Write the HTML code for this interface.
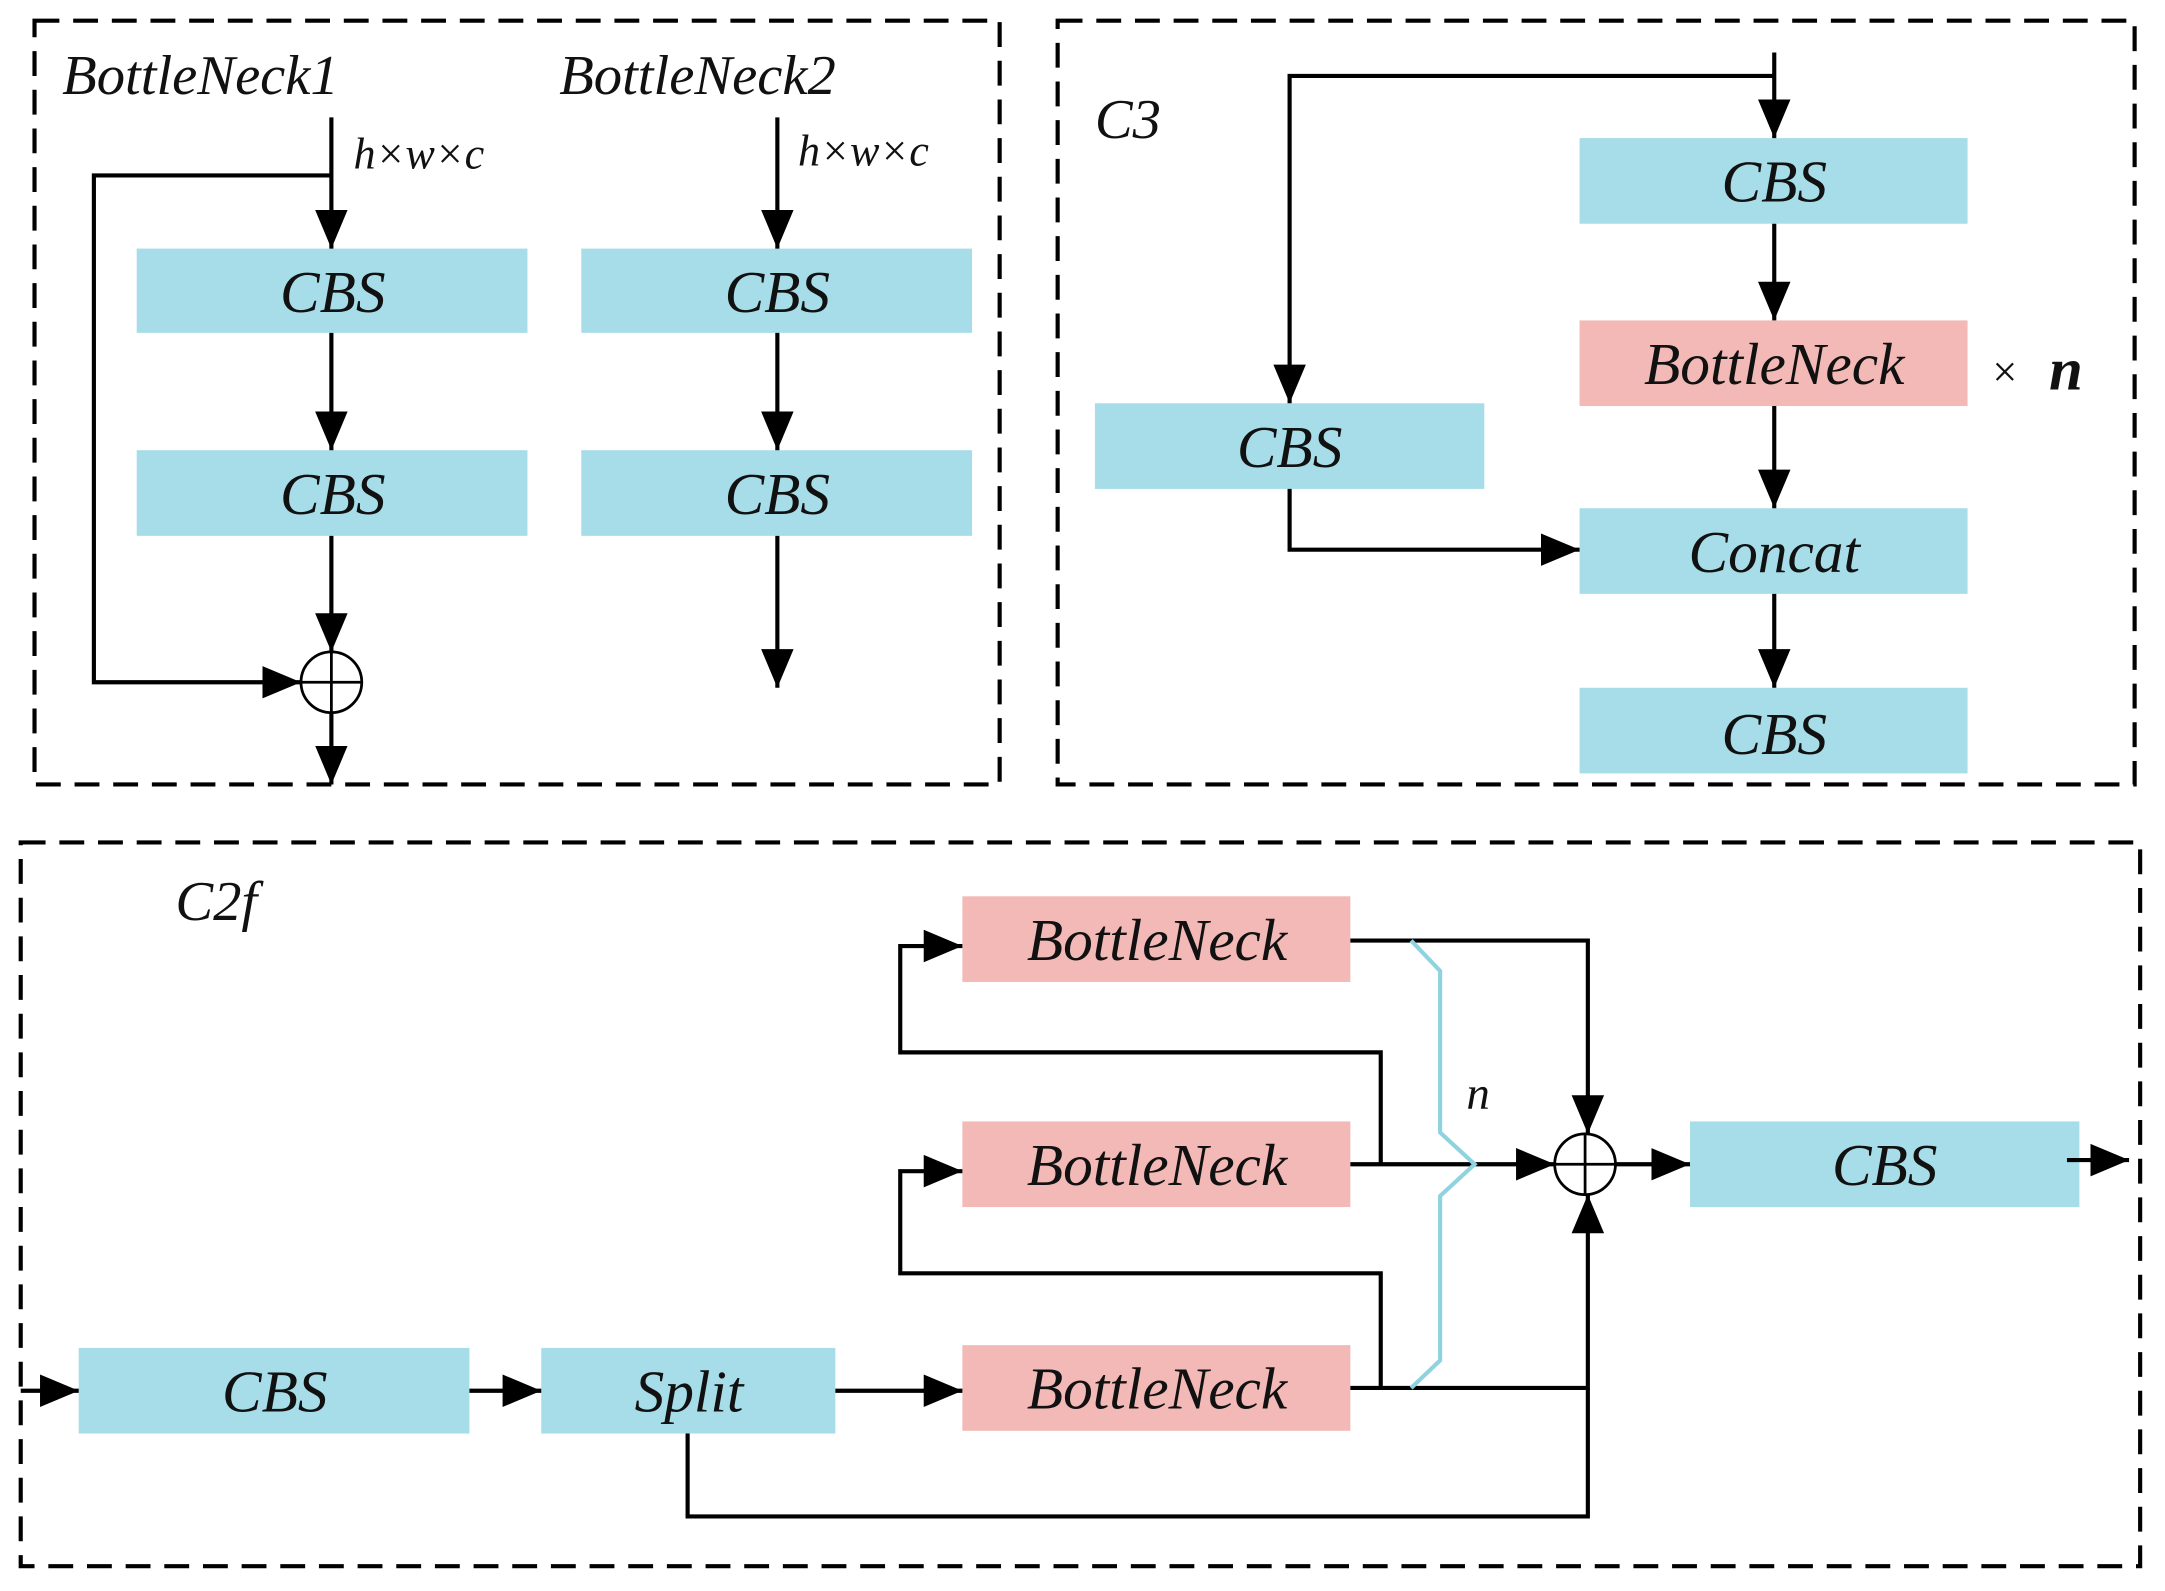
<!DOCTYPE html>
<html><head><meta charset="utf-8"><style>
html,body{margin:0;padding:0;background:#fff;}
svg{display:block;}
text{font-family:"Liberation Serif",serif;font-style:italic;fill:#111;}
</style></head><body>
<svg width="2165" height="1591" viewBox="0 0 1568 1152" preserveAspectRatio="none" xmlns="http://www.w3.org/2000/svg">
<defs>
<marker id="b" viewBox="0 0 10 10" refX="10" refY="5" markerWidth="28" markerHeight="28" orient="auto" markerUnits="userSpaceOnUse">
<path d="M0,0.8 L10,5 L0,9.2 z" fill="#000"/>
</marker>
</defs>
<g fill="none" stroke="#000" stroke-width="3" stroke-dasharray="18,10">
<rect x="25" y="15" width="699" height="553"/>
<rect x="766" y="15" width="780" height="553"/>
<rect x="15" y="610" width="1535" height="524"/>
</g>
<g fill="#a6dde8">
<rect x="99" y="180" width="283" height="61"/>
<rect x="99" y="326" width="283" height="62"/>
<rect x="421" y="180" width="283" height="61"/>
<rect x="421" y="326" width="283" height="62"/>
<rect x="1144" y="100" width="281" height="62"/>
<rect x="1144" y="368" width="281" height="62"/>
<rect x="1144" y="498" width="281" height="62"/>
<rect x="793" y="292" width="282" height="62"/>
<rect x="57" y="976" width="283" height="62"/>
<rect x="392" y="976" width="213" height="62"/>
<rect x="1224" y="812" width="282" height="62"/>
</g>
<g fill="#f2b9b6">
<rect x="1144" y="232" width="281" height="62"/>
<rect x="697" y="649" width="281" height="62"/>
<rect x="697" y="812" width="281" height="62"/>
<rect x="697" y="974" width="281" height="62"/>
</g>
<g fill="none" stroke="#000" stroke-width="3" marker-end="url(#b)">
<path d="M240,85 V180"/>
<path d="M240,241 V326"/>
<path d="M240,388 V472"/>
<path d="M240,127 H68 V494 H218"/>
<path d="M240,516 V568"/>
<path d="M563,85 V180"/>
<path d="M563,241 V326"/>
<path d="M563,388 V498"/>
<path d="M1285,38 V100"/>
<path d="M1285,55 H934 V292"/>
<path d="M1285,162 V232"/>
<path d="M1285,294 V368"/>
<path d="M1285,430 V498"/>
<path d="M934,354 V398 H1144"/>
<path d="M15,1007 H57"/>
<path d="M340,1007 H392"/>
<path d="M605,1007 H697"/>
<path d="M978,681 H1150 V821"/>
<path d="M978,843 H1126"/>
<path d="M1000,843 V762 H652 V685 H697"/>
<path d="M978,1005 H1150 V865"/>
<path d="M1000,1005 V922 H652 V848 H697"/>
<path d="M1170,843 H1224"/>
<path d="M1497,840 H1542"/>
</g>
<path d="M498,1038 V1098 H1150 V1005" fill="none" stroke="#000" stroke-width="3"/>
<g fill="none" stroke="#000" stroke-width="2">
<circle cx="240" cy="494" r="22"/>
<path d="M218,494 H262 M240,472 V516"/>
<circle cx="1148" cy="843" r="22"/>
<path d="M1126,843 H1170 M1148,821 V865"/>
</g>
<path d="M1022,681 L1043,703 V820 L1068,843 L1043,866 V985 L1022,1005" fill="none" stroke="#8fd3e0" stroke-width="3"/>
<g font-size="41">
<text x="45" y="68">BottleNeck1</text>
<text x="405" y="68">BottleNeck2</text>
<text x="793" y="100">C3</text>
<text x="127" y="666">C2f</text>
</g>
<g font-size="32">
<text x="256" y="122">h×w×c</text>
<text x="578" y="120">h×w×c</text>
<text x="1062" y="803" font-size="34">n</text>
</g>
<text x="1443" y="280" font-size="32" style="font-style:normal">×</text>
<text x="1484" y="282" font-size="44" font-weight="bold">n</text>
<g font-size="43" text-anchor="middle">
<text x="241" y="226">CBS</text>
<text x="241" y="372">CBS</text>
<text x="563" y="226">CBS</text>
<text x="563" y="372">CBS</text>
<text x="1285" y="146">CBS</text>
<text x="1285" y="278">BottleNeck</text>
<text x="1285" y="414">Concat</text>
<text x="1285" y="546">CBS</text>
<text x="934" y="338">CBS</text>
<text x="199" y="1022">CBS</text>
<text x="499" y="1022">Split</text>
<text x="838" y="695">BottleNeck</text>
<text x="838" y="858">BottleNeck</text>
<text x="838" y="1020">BottleNeck</text>
<text x="1365" y="858">CBS</text>
</g>
</svg>
</body></html>
